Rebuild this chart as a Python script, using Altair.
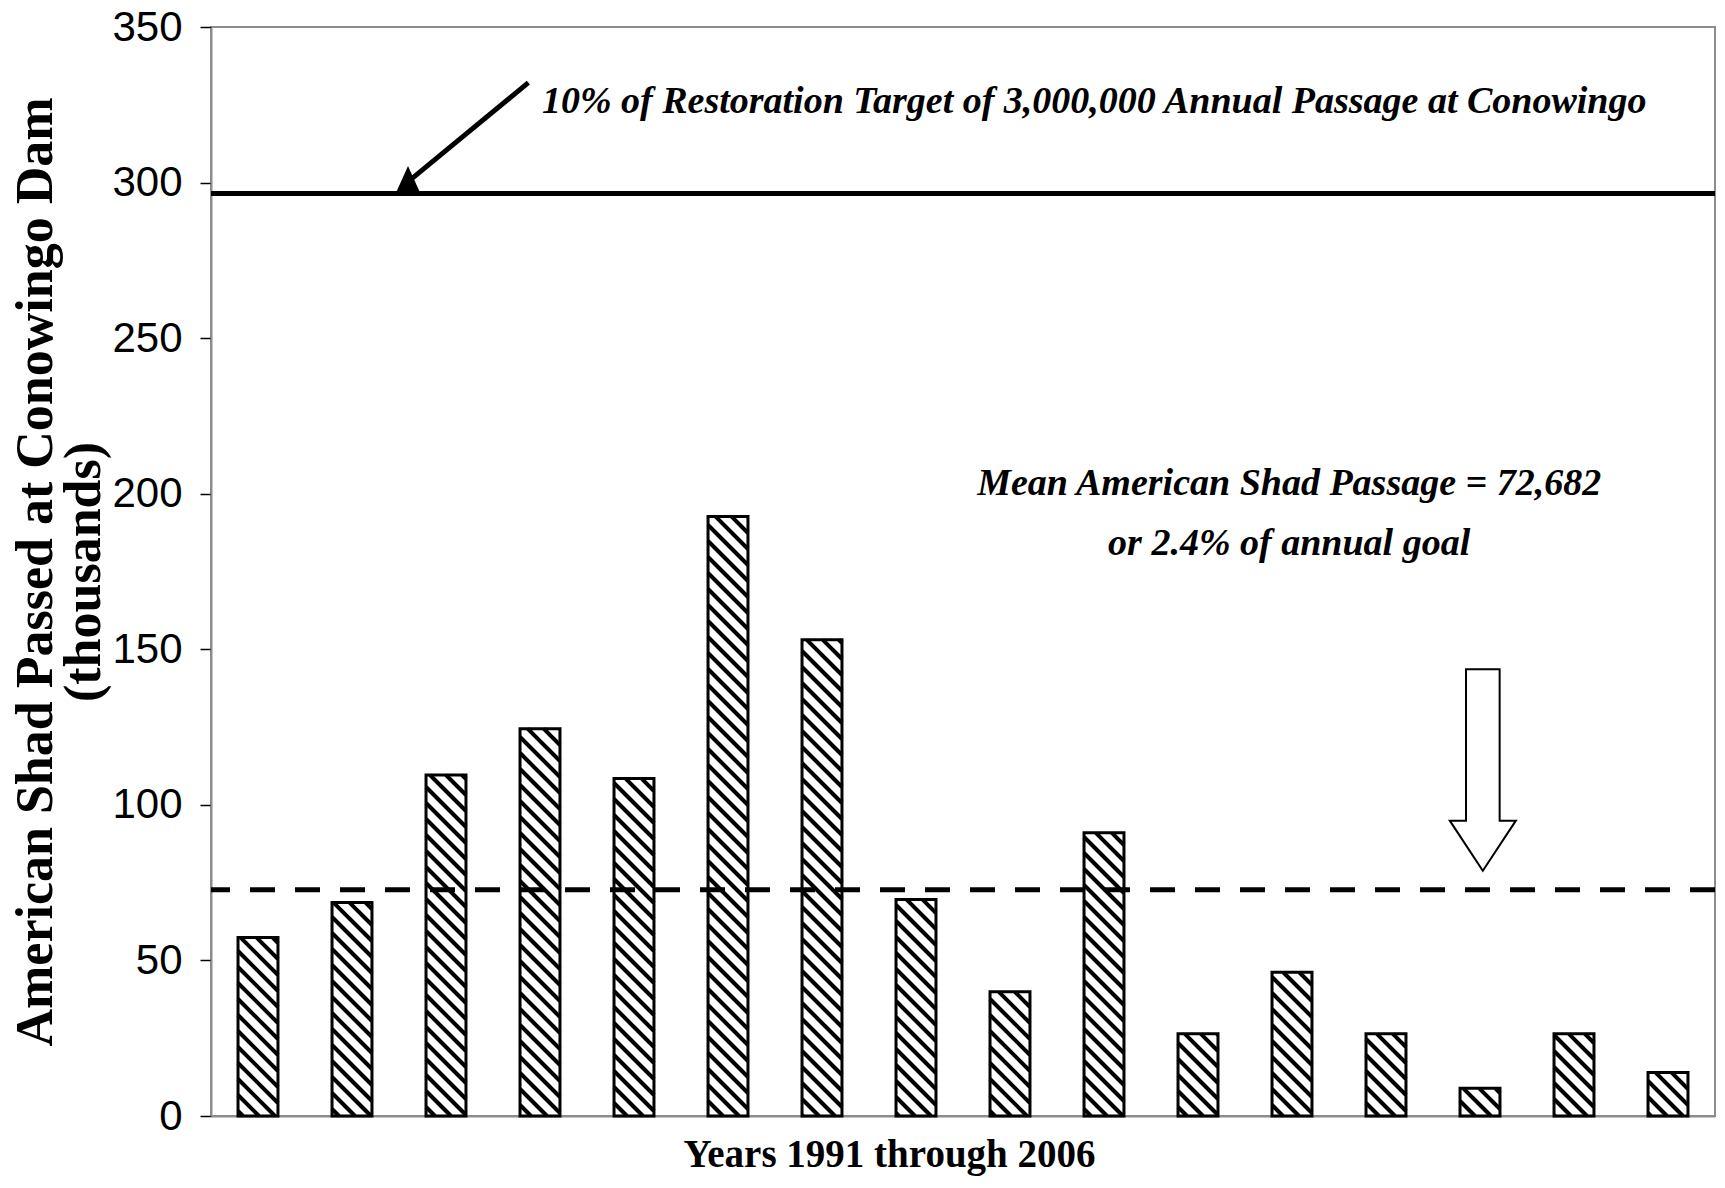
import math
import altair as alt
import pandas as pd

# ---------------- data ----------------
years = list(range(1991, 2007))
passage = [57.4, 68.6, 109.6, 124.5, 108.5, 192.7, 153.1, 69.6,
           39.9, 91.0, 26.4, 46.2, 26.4, 8.9, 26.4, 14.0]   # thousands of fish
target_level = [296.5]          # drawn position of "10% of restoration target" line
mean_level = [72.682]           # mean passage (thousands)
y_ticks = [0, 50, 100, 150, 200, 250, 300, 350]

target_label = ["10% of Restoration Target of 3,000,000 Annual Passage at Conowingo"]
mean_label = ["Mean American Shad Passage = 72,682", "or 2.4% of annual goal"]
y_title = ["American Shad Passed at Conowingo Dam", "(thousands)"]
x_title = "Years 1991 through 2006"

# ---------------- layout ----------------
W, H = 1504, 1089
X_DOM = [1990.5, 2006.5]
Y_DOM = [0, 350]
SX = W / (X_DOM[1] - X_DOM[0])
SY = H / (Y_DOM[1] - Y_DOM[0])
HALF = 0.2125          # half bar width, in years
PERIOD = 16            # hatch spacing (px)

bars = pd.DataFrame({
    "x": [y - HALF for y in years],
    "x2": [y + HALF for y in years],
    "y": passage,
    "y2": [0] * len(years),
})

# diagonal hatch segments inside each bar (derived from the bar values)
hatch_rows = []
for xl, xr, v in zip(bars["x"], bars["x2"], bars["y"]):
    bw = (xr - xl) * SX
    bh = v * SY
    X0 = (xl - X_DOM[0]) * SX
    j = math.ceil(X0 / PERIOD)
    while True:
        c = PERIOD * j - X0
        if c >= bw + bh:
            break
        if c > 0:
            u0 = max(0.0, c - bh)
            u1 = min(bw, c)
            if u1 > u0:
                hatch_rows.append({"x": xl + u0 / SX, "y": (c - u0) / SY,
                                   "x2": xl + u1 / SX, "y2": (c - u1) / SY})
        j += 1
hatch = pd.DataFrame(hatch_rows)

target_df = pd.DataFrame({"y": target_level})
mean_df = pd.DataFrame({"y": mean_level})

# annotation anchors (data coordinates)
arrow_line = pd.DataFrame({"x": [1993.876], "y": [332.1], "x2": [1992.617], "y2": [300.8]})
arrow_head = pd.DataFrame({"x": [1992.596], "y": [301.3]})
block_arrow = pd.DataFrame({"x": [2004.03], "y": [111.2]})
target_text_df = pd.DataFrame({"x": [1994.02], "y": [322.4], "t": target_label})
mean_text_df = pd.DataFrame({"x": [2001.97, 2001.97], "y": [199.6, 180.3], "t": mean_label})

GRAY = "#8c8c8c"


def X(field="x"):
    return alt.X(f"{field}:Q",
                 scale=alt.Scale(domain=X_DOM, nice=False, zero=False),
                 axis=alt.Axis(labels=False, ticks=False, grid=False,
                               domainColor=GRAY, domainWidth=2,
                               title=x_title, titleFont="Liberation Serif",
                               titleFontWeight="bold", titleFontSize=39,
                               titleColor="black", titleX=678, titleY=50,
                               titleAlign="center", titleBaseline="alphabetic"))


def Y(field="y"):
    return alt.Y(f"{field}:Q",
                 scale=alt.Scale(domain=Y_DOM, nice=False, zero=True),
                 axis=alt.Axis(values=y_ticks, grid=False, tickSize=11,
                               tickColor="black", tickWidth=1.5,
                               domainColor=GRAY, domainWidth=2,
                               labelFont="Liberation Sans Narrow, Arial Narrow, Liberation Sans",
                               labelFontSize=42, labelColor="black", labelPadding=18,
                               title=y_title, titleFont="Liberation Serif",
                               titleFontWeight="bold", titleFontSize=52,
                               titleColor="black", titleLineHeight=48,
                               titleX=-201, titleBaseline="top"))


bar_fill = alt.Chart(bars).mark_bar(fill="white", strokeWidth=0).encode(
    x=X("x"), x2="x2:Q", y=Y("y"), y2="y2:Q")

hatch_layer = alt.Chart(hatch).mark_rule(color="black", strokeWidth=4, strokeCap="butt").encode(
    x=X("x"), x2="x2:Q", y=Y("y"), y2="y2:Q")

bar_outline = alt.Chart(bars).mark_bar(fillOpacity=0, stroke="black", strokeWidth=3).encode(
    x=X("x"), x2="x2:Q", y=Y("y"), y2="y2:Q")

target_rule = alt.Chart(target_df).mark_rule(color="black", strokeWidth=5).encode(y=Y("y"))

mean_rule = alt.Chart(mean_df).mark_rule(color="black", strokeWidth=5,
                                         strokeDash=[25, 20]).encode(y=Y("y"))

arrow_line_layer = alt.Chart(arrow_line).mark_rule(color="black", strokeWidth=5).encode(
    x=X("x"), x2="x2:Q", y=Y("y"), y2="y2:Q")

arrow_head_layer = alt.Chart(arrow_head).mark_point(
    shape="M0,-1 L0.9,1 L-0.9,1 Z", filled=True, fill="black", opacity=1,
    size=625, strokeWidth=0).encode(x=X("x"), y=Y("y"))

block_arrow_layer = alt.Chart(block_arrow).mark_point(
    shape="M-0.167,-1 L0.167,-1 L0.167,0.503 L0.328,0.503 L0,1 L-0.328,0.503 L-0.167,0.503 Z",
    filled=True, fill="white", stroke="black", strokeWidth=2, opacity=1,
    size=40562).encode(x=X("x"), y=Y("y"))

text_style = dict(font="Liberation Serif", fontStyle="italic", fontWeight="bold",
                  fontSize=38, color="black", baseline="alphabetic")

target_text = alt.Chart(target_text_df).mark_text(align="left", **text_style).encode(
    x=X("x"), y=Y("y"), text="t:N")

mean_text = alt.Chart(mean_text_df).mark_text(align="center", **text_style).encode(
    x=X("x"), y=Y("y"), text="t:N")

chart = alt.layer(
    bar_fill, hatch_layer, bar_outline, target_rule, mean_rule,
    arrow_line_layer, arrow_head_layer, block_arrow_layer, target_text, mean_text
).properties(
    width=W, height=H,
    autosize=alt.AutoSizeParams(type="none"),
    padding={"left": 203, "top": 19, "right": 2, "bottom": 60},
    background="white",
).configure_view(stroke=GRAY, strokeWidth=2)

chart.save("out.html", embed_options={"renderer": "svg", "actions": False})
